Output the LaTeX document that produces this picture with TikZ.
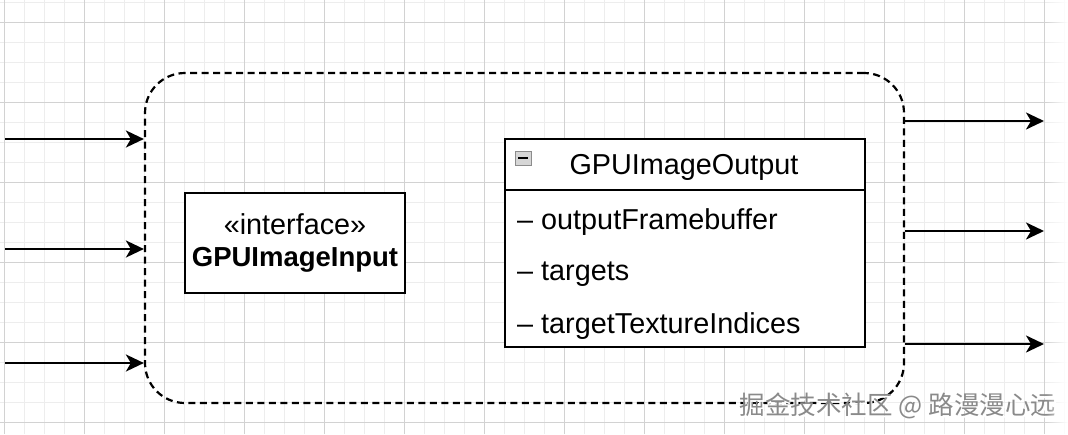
\documentclass[tikz,border=0pt]{standalone}
\usepackage{fontspec}
\setmainfont{Liberation Sans}
\newfontfamily\cjk{Noto Sans CJK SC}
\usetikzlibrary{arrows.meta,positioning,fadings}
\definecolor{gridminor}{HTML}{EDEDED}
\definecolor{gridmajor}{HTML}{D2D2D2}
\definecolor{iconfill}{HTML}{D6D6D6}
\definecolor{iconline}{HTML}{8C8C8C}
\definecolor{markgray}{HTML}{8A8A8A}
\tikzset{
  umlbox/.style={draw, line width=2.2pt, fill=white, inner sep=0pt, outer sep=0pt},
  flow/.style={line width=2.5pt, -{Stealth[length=18pt, width=17pt, inset=5pt]}},
  attr/.style={anchor=west, inner sep=0pt},
}

\begin{document}
\begin{tikzpicture}[x=1pt, y=-1pt, font=\fontsize{28.8}{32}\selectfont]
\useasboundingbox (0,0) rectangle (1068,434);
\fill[white] (0,0) rectangle (1068,434);
% grid
\foreach \x in {4,24,...,1064} {\draw[gridminor, line width=1pt] (\x,0) -- (\x,434);}
\foreach \y in {2,22,...,422} {\draw[gridminor, line width=1pt] (0,\y) -- (1068,\y);}
\foreach \x in {4,84,...,1044} {\draw[gridmajor, line width=1pt] (\x,0) -- (\x,434);}
\foreach \y in {22,102,...,422} {\draw[gridmajor, line width=1pt] (0,\y) -- (1068,\y);}

% component
\node[draw, line width=2.2pt, dash pattern=on 7pt off 4.5pt, rounded corners=40pt,
  minimum width=759pt, minimum height=330pt, inner sep=0pt] (comp) at (524.5,238) {};

\node[umlbox, minimum width=220pt, minimum height=100pt, align=center] (input) at (295,243)
  {«interface»\\\fontsize{27.5}{32}\selectfont\textbf{GPUImageInput}};

\node[umlbox, minimum width=360pt, minimum height=51pt] (outhead) at (685,164.5) {};
\node (title) at (684,167) {GPUImageOutput};
\node[umlbox, minimum width=360pt, minimum height=157pt, below=0pt of outhead] (outbody) {};
\node[draw=iconline, fill=iconfill, line width=1pt, minimum width=16pt, minimum height=14pt,
  inner sep=0pt] (fold) at (523,158) {};
\draw[line width=2pt] ([xshift=3.5pt]fold.west) -- ([xshift=-3.5pt]fold.east);
\node[attr] (fb) at (517,222) {– outputFramebuffer};
\node[attr] (tg) at (517,274) {– targets};
\node[attr] (ti) at (517,326) {– targetTextureIndices};

% inputs and outputs
\foreach \n/\y in {1/139,2/249,3/363} {
  \coordinate (in\n) at (5,\y);
  \draw[flow] (in\n) -- (in\n -| comp.west);
}
\foreach \n/\y in {1/121,2/231,3/344} {
  \coordinate (out\n) at (1044,\y);
  \draw[flow] (out\n -| comp.east) -- (out\n);
}

% watermark
\node[text=white] (markshadow) at (899.5,407.5) {\cjk\fontsize{25.5}{25}\selectfont 掘金技术社区 @ 路漫漫心远};
\node[text=markgray] (mark) at (898,406) {\cjk\fontsize{25.5}{25}\selectfont 掘金技术社区 @ 路漫漫心远};

\fill[white, path fading=west] (1046,0) rectangle (1068,434);
\end{tikzpicture}
\end{document}
